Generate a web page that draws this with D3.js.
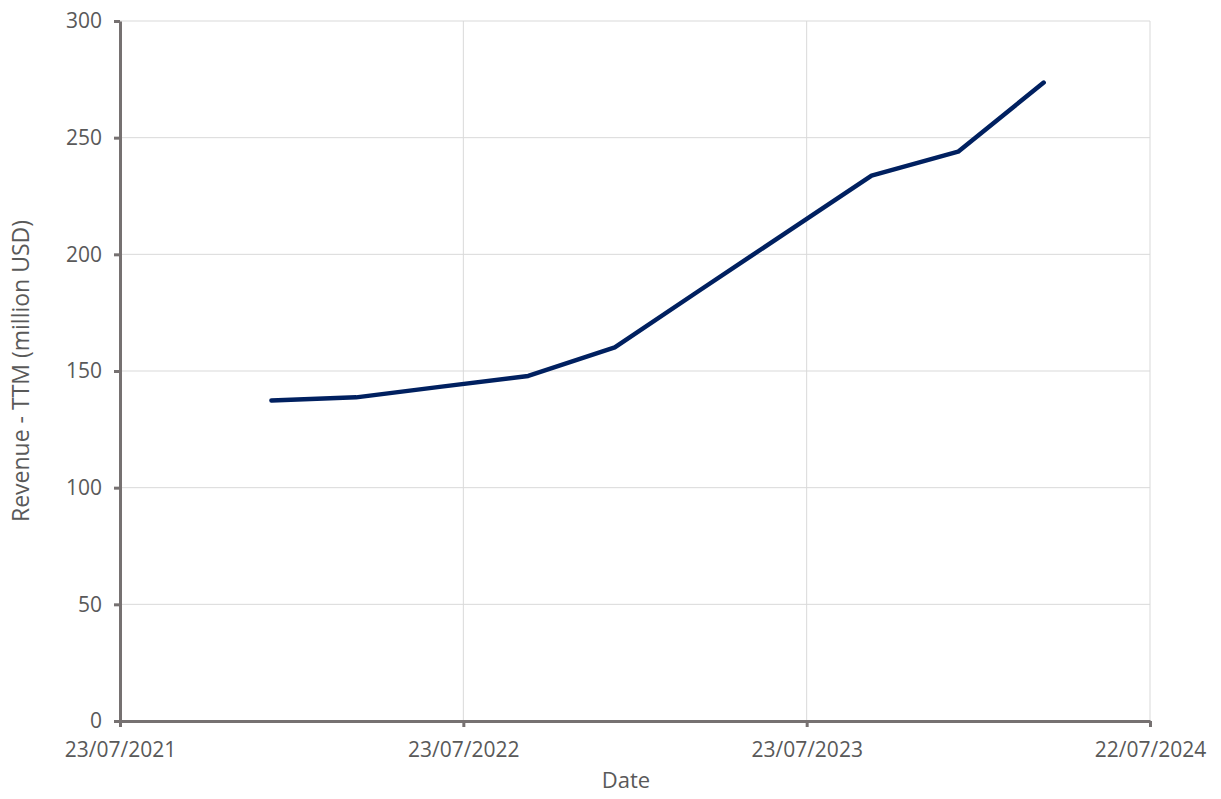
<!DOCTYPE html>
<html>
<head>
<meta charset="utf-8">
<script src="https://cdn.jsdelivr.net/npm/d3@7"></script>
<style>
  body { margin: 0; background: #fff; }
  text { font-family: "Open Sans", sans-serif; fill: #595959; }
</style>
</head>
<body>
<script>
// quarterly TTM revenue
var dates = ["2021-12-31", "2022-03-31", "2022-06-30", "2022-09-30", "2022-12-31",
             "2023-03-31", "2023-06-30", "2023-09-30", "2023-12-31", "2024-03-31"];
var revenue = [137.4, 138.7, 143.3, 147.9, 160.1, 184.5, 209.0, 233.7, 244.0, 273.6];
var xTicks = ["2021-07-23", "2022-07-23", "2023-07-23", "2024-07-22"];
var yTicks = [0, 50, 100, 150, 200, 250, 300];

var parse = d3.timeParse("%Y-%m-%d");
var data = dates.map(function(d, i) { return {date: parse(d), value: revenue[i]}; });

var width = 1221;
var height = 799;
var margin = {top: 21, right: 71, bottom: 78, left: 120};

var svg = d3.select("body")
  .append("svg")
  .attr("width", width)
  .attr("height", height);

var w = width - margin.left - margin.right;
var h = height - margin.top - margin.bottom;

var g = svg.append("g")
  .attr("transform", "translate(" + margin.left + "," + margin.top + ")");

var x = d3.scaleTime()
  .domain([parse(xTicks[0]), parse(xTicks[xTicks.length - 1])])
  .range([0, w]);

var y = d3.scaleLinear()
  .domain([0, 300])
  .range([h, 0]);

// gridlines
g.append("g")
  .selectAll("line")
  .data(yTicks)
  .enter().append("line")
  .attr("x1", 0).attr("x2", w)
  .attr("y1", function(d) { return y(d); })
  .attr("y2", function(d) { return y(d); })
  .attr("stroke", "#d9d9d9");

g.append("g")
  .selectAll("line")
  .data(xTicks.map(parse))
  .enter().append("line")
  .attr("x1", function(d) { return x(d); })
  .attr("x2", function(d) { return x(d); })
  .attr("y1", 0).attr("y2", h)
  .attr("stroke", "#d9d9d9");

// axes
var xAxis = g.append("g")
  .attr("transform", "translate(0," + h + ")")
  .call(d3.axisBottom(x)
    .tickValues(xTicks.map(parse))
    .tickFormat(d3.timeFormat("%d/%m/%Y"))
    .tickSize(6)
    .tickSizeOuter(0)
    .tickPadding(15));

var yAxis = g.append("g")
  .call(d3.axisLeft(y)
    .tickValues(yTicks)
    .tickSize(6)
    .tickSizeOuter(0)
    .tickPadding(12));

[xAxis, yAxis].forEach(function(a) {
  a.select(".domain").attr("stroke", "#767171").attr("stroke-width", 3);
  a.selectAll(".tick line").attr("stroke", "#767171").attr("stroke-width", 3);
  a.selectAll(".tick text")
    .attr("fill", "#595959")
    .style("font-family", "'Open Sans', sans-serif")
    .style("font-size", "21px");
});

// the line
var line = d3.line()
  .x(function(d) { return x(d.date); })
  .y(function(d) { return y(d.value); });

g.append("path")
  .datum(data)
  .attr("fill", "none")
  .attr("stroke", "#002060")
  .attr("stroke-width", 4.5)
  .attr("stroke-linejoin", "round")
  .attr("stroke-linecap", "round")
  .attr("d", line);

// axis titles
svg.append("text")
  .attr("x", 626)
  .attr("y", 788)
  .attr("text-anchor", "middle")
  .style("font-size", "22px")
  .text("Date");

svg.append("text")
  .attr("transform", "translate(29," + (margin.top + h / 2) + ") rotate(-90)")
  .attr("text-anchor", "middle")
  .style("font-size", "23px")
  .text("Revenue - TTM (million USD)");
</script>
</body>
</html>
